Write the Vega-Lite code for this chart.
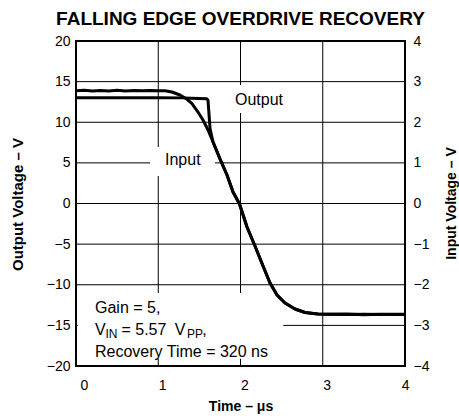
{
  "$schema": "https://vega.github.io/schema/vega-lite/v6.json",
  "width": 329,
  "height": 325,
  "autosize": "none",
  "padding": {"left": 76, "top": 41, "right": 54, "bottom": 52},
  "background": "white",
  "title": {
    "text": "FALLING EDGE OVERDRIVE RECOVERY",
    "font": "Liberation Sans",
    "fontSize": 19,
    "fontWeight": "bold",
    "color": "black",
    "anchor": "middle",
    "frame": "group",
    "offset": 5
  },
  "config": {
    "font": "Liberation Sans",
    "view": {"stroke": "black", "strokeWidth": 2},
    "axis": {
      "labelFont": "Liberation Sans",
      "labelFontSize": 14,
      "labelColor": "black",
      "titleFont": "Liberation Sans",
      "titleFontSize": 14,
      "titleFontWeight": "bold",
      "titleColor": "black",
      "domain": false,
      "ticks": false,
      "grid": false
    },
    "text": {"font": "Liberation Sans", "fontSize": 16, "color": "black"}
  },
  "datasets": {
    "output": [
      {"t": 0.0, "v": 13.02}, {"t": 0.5, "v": 13.02}, {"t": 1.0, "v": 13.02},
      {"t": 1.3, "v": 13.0}, {"t": 1.4, "v": 12.95}, {"t": 1.5, "v": 12.92},
      {"t": 1.589, "v": 12.9}, {"t": 1.605, "v": 12.7}, {"t": 1.63, "v": 9.2},
      {"t": 1.666, "v": 7.57}, {"t": 1.751, "v": 5.475}, {"t": 1.836, "v": 3.51},
      {"t": 1.909, "v": 1.415}, {"t": 1.988, "v": -0.06}, {"t": 2.079, "v": -2.89},
      {"t": 2.176, "v": -5.23}, {"t": 2.274, "v": -7.69}, {"t": 2.359, "v": -9.785},
      {"t": 2.444, "v": -11.26}, {"t": 2.541, "v": -12.245}, {"t": 2.663, "v": -12.985},
      {"t": 2.784, "v": -13.415}, {"t": 2.942, "v": -13.6}, {"t": 3.088, "v": -13.635},
      {"t": 3.3, "v": -13.6}, {"t": 3.5, "v": -13.68}, {"t": 3.7, "v": -13.62},
      {"t": 4.0, "v": -13.65}
    ],
    "input": [
      {"t": 0.0, "v": 2.776}, {"t": 0.1, "v": 2.785}, {"t": 0.2, "v": 2.768},
      {"t": 0.3, "v": 2.783}, {"t": 0.4, "v": 2.772}, {"t": 0.5, "v": 2.786},
      {"t": 0.6, "v": 2.77}, {"t": 0.7, "v": 2.782}, {"t": 0.8, "v": 2.774},
      {"t": 0.9, "v": 2.784}, {"t": 1.0, "v": 2.776}, {"t": 1.08, "v": 2.775},
      {"t": 1.167, "v": 2.745}, {"t": 1.264, "v": 2.671}, {"t": 1.337, "v": 2.585},
      {"t": 1.41, "v": 2.457}, {"t": 1.483, "v": 2.252}, {"t": 1.544, "v": 2.055},
      {"t": 1.605, "v": 1.809}, {"t": 1.666, "v": 1.514}, {"t": 1.751, "v": 1.095},
      {"t": 1.836, "v": 0.702}, {"t": 1.909, "v": 0.283}, {"t": 1.988, "v": -0.012},
      {"t": 2.079, "v": -0.578}, {"t": 2.176, "v": -1.046}, {"t": 2.274, "v": -1.538},
      {"t": 2.359, "v": -1.957}, {"t": 2.444, "v": -2.252}, {"t": 2.541, "v": -2.449},
      {"t": 2.663, "v": -2.597}, {"t": 2.784, "v": -2.683}, {"t": 2.942, "v": -2.72},
      {"t": 3.088, "v": -2.727}, {"t": 3.3, "v": -2.73}, {"t": 3.5, "v": -2.725},
      {"t": 3.7, "v": -2.732}, {"t": 4.0, "v": -2.727}
    ]
  },
  "layer": [
    {
      "data": {"values": [{"t": 1}, {"t": 2}, {"t": 3}]},
      "mark": {"type": "rule", "color": "black", "strokeWidth": 1},
      "encoding": {
        "x": {
          "field": "t",
          "type": "quantitative",
          "scale": {"domain": [0, 4], "nice": false, "zero": false},
          "axis": {
            "title": "Time – μs",
            "values": [0, 1, 2, 3, 4],
            "format": "d",
            "labelPadding": 12,
            "labelOffset": 4,
            "titleY": 40,
            "titleBaseline": "middle"
          }
        }
      }
    },
    {
      "layer": [
        {
          "data": {"values": [{"v": -15}, {"v": -10}, {"v": -5}, {"v": 0}, {"v": 5}, {"v": 10}, {"v": 15}]},
          "mark": {"type": "rule", "color": "black", "strokeWidth": 1},
          "encoding": {
            "y": {
              "field": "v",
              "type": "quantitative",
              "scale": {"domain": [-20, 20], "nice": false, "zero": false},
              "axis": {
                "title": "Output Voltage – V",
                "orient": "left",
                "values": [-20, -15, -10, -5, 0, 5, 10, 15, 20],
                "format": "d",
                "labelPadding": 6,
                "titleFontSize": 15,
                "titleAngle": 270,
                "titleX": -59,
                "titleY": 163,
                "titleBaseline": "middle",
                "titleAlign": "center"
              }
            }
          }
        },
        {
          "data": {"values": [{}]},
          "mark": {"type": "rect", "fill": "white", "stroke": null},
          "encoding": {
            "x": {"datum": 0.9, "type": "quantitative"}, "x2": {"datum": 1.69},
            "y": {"datum": 6.95, "type": "quantitative"}, "y2": {"datum": 3.38}
          }
        },
        {
          "data": {"values": [{}]},
          "mark": {"type": "rect", "fill": "white", "stroke": null},
          "encoding": {
            "x": {"datum": 1.85, "type": "quantitative"}, "x2": {"datum": 2.6},
            "y": {"datum": 14.58, "type": "quantitative"}, "y2": {"datum": 11.14}
          }
        },
        {
          "data": {"values": [{}]},
          "mark": {"type": "rect", "fill": "white", "stroke": null},
          "encoding": {
            "x": {"datum": 0.02, "type": "quantitative"}, "x2": {"datum": 2.52},
            "y": {"datum": -11.0, "type": "quantitative"}, "y2": {"datum": -19.1}
          }
        },
        {
          "data": {"values": [
            {"label": "Output", "t": 1.933, "v": 12.74},
            {"label": "Input", "t": 1.082, "v": 5.3}
          ]},
          "mark": {"type": "text", "align": "left", "baseline": "middle"},
          "encoding": {
            "x": {"field": "t", "type": "quantitative"},
            "y": {"field": "v", "type": "quantitative"},
            "text": {"field": "label"}
          }
        },
        {
          "data": {"values": [
            {"label": "Gain = 5,", "t": 0.231, "v": -13.52},
            {"label": "V", "t": 0.231, "v": -16.18},
            {"label": "= 5.57", "t": 0.553, "v": -16.18},
            {"label": "V", "t": 1.2, "v": -16.18},
            {"label": ",", "t": 1.535, "v": -16.18},
            {"label": "Recovery Time = 320 ns", "t": 0.231, "v": -18.86}
          ]},
          "mark": {"type": "text", "align": "left", "baseline": "alphabetic"},
          "encoding": {
            "x": {"field": "t", "type": "quantitative"},
            "y": {"field": "v", "type": "quantitative"},
            "text": {"field": "label"}
          }
        },
        {
          "data": {"values": [
            {"label": "IN", "t": 0.359, "v": -16.18},
            {"label": "PP", "t": 1.35, "v": -16.18}
          ]},
          "mark": {"type": "text", "align": "left", "baseline": "alphabetic", "fontSize": 12, "dy": 3},
          "encoding": {
            "x": {"field": "t", "type": "quantitative"},
            "y": {"field": "v", "type": "quantitative"},
            "text": {"field": "label"}
          }
        },
        {
          "data": {"name": "output"},
          "mark": {"type": "line", "color": "black", "strokeWidth": 3, "strokeJoin": "round"},
          "encoding": {
            "x": {"field": "t", "type": "quantitative"},
            "y": {"field": "v", "type": "quantitative"},
            "order": {"field": "t", "type": "quantitative"}
          }
        }
      ]
    },
    {
      "data": {"name": "input"},
      "mark": {"type": "line", "color": "black", "strokeWidth": 3, "strokeJoin": "round"},
      "encoding": {
        "x": {"field": "t", "type": "quantitative"},
        "order": {"field": "t", "type": "quantitative"},
        "y": {
          "field": "v",
          "type": "quantitative",
          "scale": {"domain": [-4, 4], "nice": false, "zero": false},
          "axis": {
            "title": "Input Voltage – V",
            "orient": "right",
            "values": [-4, -3, -2, -1, 0, 1, 2, 3, 4],
            "format": "d",
            "labelPadding": 8,
            "titleAngle": 270,
            "titleX": 46,
            "titleY": 162,
            "titleBaseline": "middle",
            "titleAlign": "center"
          }
        }
      }
    }
  ],
  "resolve": {"scale": {"y": "independent"}}
}
